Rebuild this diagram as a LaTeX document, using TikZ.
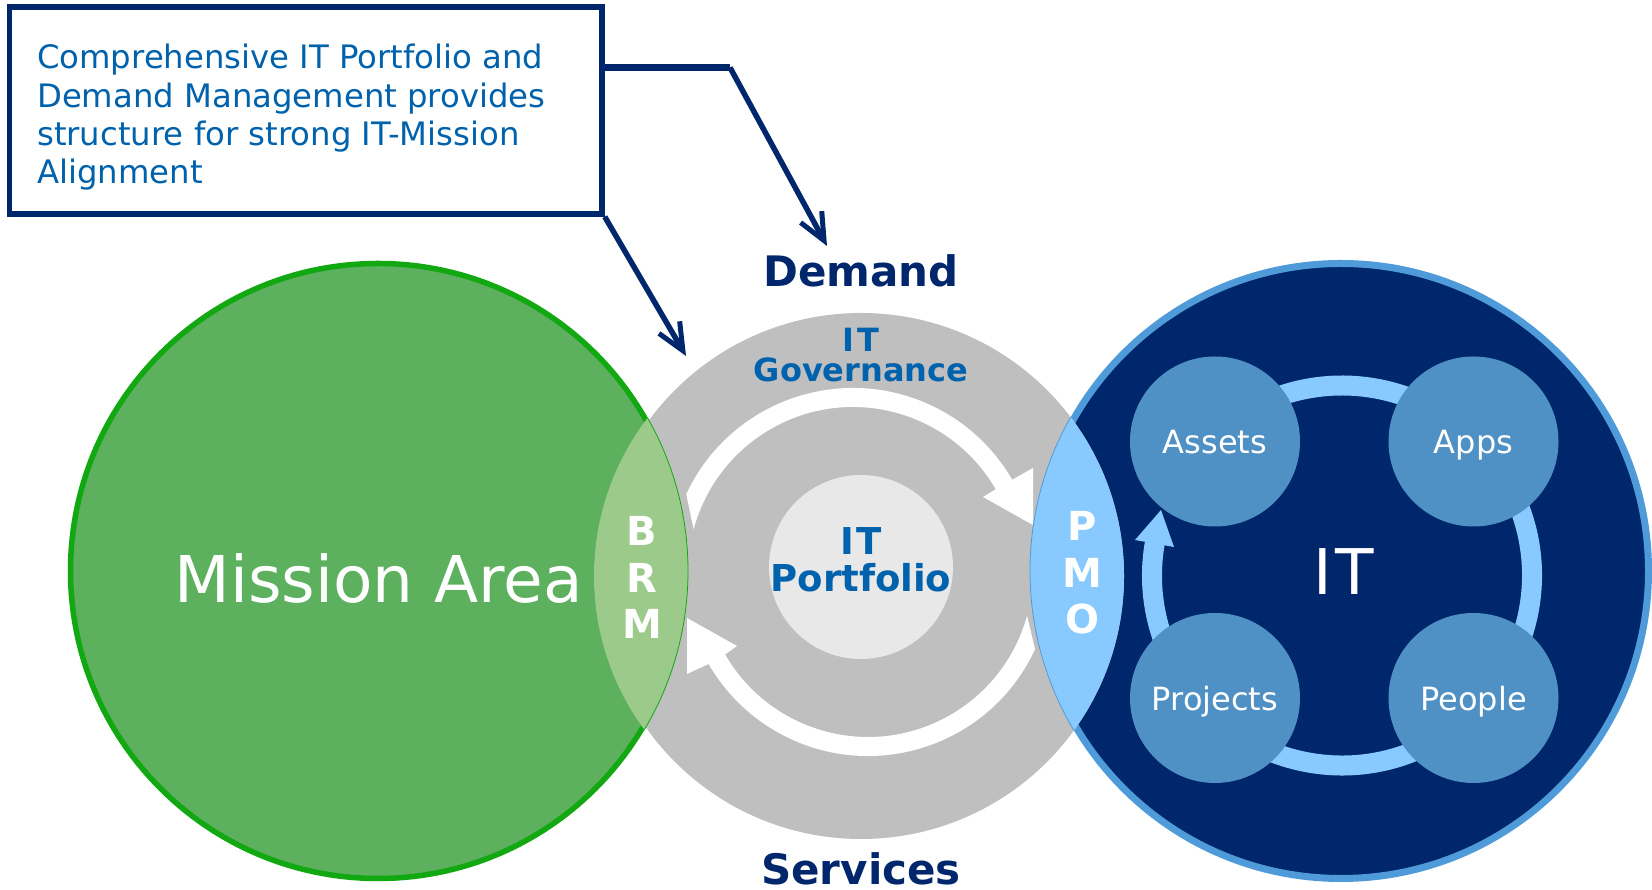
\documentclass[tikz,border=0pt]{standalone}
\usepackage{fontspec}
\setmainfont{DejaVu Sans}
\usetikzlibrary{arrows.meta}
\definecolor{navy}{HTML}{00276C}
\definecolor{inkblue}{HTML}{0062AC}
\definecolor{midblue}{HTML}{4F91C5}
\definecolor{skyblue}{HTML}{88CAFF}
\definecolor{leaf}{HTML}{5DB05D}
\definecolor{leafline}{HTML}{12A812}
\definecolor{leaflens}{HTML}{9CCA8A}
\definecolor{edgeblue}{HTML}{4F9BD9}
\begin{document}
\begin{tikzpicture}[x=1pt, y=1pt,
	disc/.style={circle, inner sep=0pt, outer sep=0pt},
	member/.style={disc, minimum size=170pt, fill=midblue, text=white, text height=32pt, text depth=7pt, font=\fontsize{32}{38}\selectfont},
	pointer/.style={draw=navy, line width=5.5pt, -{Straight Barb[length=27pt, width=24pt, line width=5pt]}},
	stack/.style={text=white, align=center, font=\fontsize{40}{46.5}\selectfont\bfseries},
	heading/.style={anchor=base, inner sep=0pt, text=navy, font=\fontsize{42}{46}\selectfont\bfseries},
	inner/.style={text=inkblue, align=center}]
	\useasboundingbox (0,0) rectangle (1652,890);

	\node[disc, minimum size=615pt, fill=leaf, draw=leafline, line width=5.5pt] (mission) at (378,319) {};
	\node[disc, minimum size=615pt, fill=navy, draw=edgeblue, line width=7pt] (itc) at (1341,319) {};
	\node[disc, minimum size=526pt, fill=black!25] (gov) at (861,314) {};
	\node[disc, minimum size=184pt, fill=black!9] (core) at (861,323) {};

	% white cycle round the portfolio
	\fill[white] (853,318) ++(155:184) arc[start angle=155, end angle=30.1, radius=184] -- (1033,422) -- (1033,365) -- (983,393) -- ([shift={(30.1:165)}]853,318) arc[start angle=30.1, end angle=165, radius=165] -- cycle;
	\fill[white] (868,318) ++(-24.8:184) arc[start angle=-24.8, end angle=-150, radius=184] -- (687,216) -- (687,272) -- (737,244) -- ([shift={(-150:165)}]868,318) arc[start angle=-150, end angle=-15.4, radius=165] -- cycle;

	% overlaps
	\begin{scope}
		\clip (gov.center) ellipse[x radius=267, y radius=263];
		\fill[leaflens] (mission.center) circle[radius=310];
		\draw[leafline, line width=.8pt] (mission.center) circle[radius=310];
	\end{scope}
	\begin{scope}
		\clip (gov.center) circle[radius=263];
		\fill[skyblue] (itc.center) circle[radius=311];
		\draw[edgeblue, line width=.8pt] (itc.center) circle[radius=311];
	\end{scope}

	% ring behind the four members
	\coordinate (ringc) at (1342,314.5);
	\draw[skyblue, line width=20pt] (ringc) ++(170:190) arc[start angle=170, end angle=490, radius=190];
	\fill[skyblue] (1135,350) -- (1161,380) -- (1174,343) -- cycle;

	\node[member] (assets) at (1215,448.5) {Assets};
	\node[member] (apps) at (1473.5,448.5) {Apps};
	\node[member] (projects) at (1215,192) {Projects};
	\node[member] (people) at (1473.5,192) {People};

	\node[anchor=base, text=white, font=\fontsize{64.5}{70}\selectfont] (missionlabel) at (378.5,287) {Mission Area};
	\node[anchor=base, text=white, font=\fontsize{63}{70}\selectfont] (itlabel) at (1344,295) {I\kern3pt T};
	\node[stack] (brm) at (642,312.5) {B\\R\\M};
	\node[stack] (pmo) at (1082,317) {P\\M\\O};
	\node[inner, font=\fontsize{37}{37}\selectfont\bfseries] (portfolio) at (861,330) {I\kern3pt T\\Portfolio};
	\node[inner, font=\fontsize{32}{30}\selectfont\bfseries] (governance) at (861,535) {I\kern3pt T\\Governance};
	\node[heading] (demand) at (861,603) {Demand};
	\node[heading] (services) at (861,5) {Services};

	\node[draw=navy, line width=5.5pt, fill=white, minimum width=592.5pt, minimum height=207pt, inner sep=0pt] (box) at (305.75,779.5) {};
	\node[anchor=north west, text=inkblue, align=left, inner sep=0pt, font=\fontsize{32.3}{38.3}\selectfont] (boxtext) at (37,846) {Comprehensive IT Portfolio and\\Demand Management provides\\structure for strong IT-Mission\\Alignment};

	% callout connectors
	\coordinate (bend) at (730,822.5);
	\coordinate (demandtip) at (827,644);
	\coordinate (govtip) at (686,534);
	\draw[navy, line width=6.5pt] (box.east |- bend) -- (bend);
	\draw[pointer] (bend) -- (demandtip);
	\draw[pointer] (box.south east) -- (govtip);
\end{tikzpicture}
\end{document}
